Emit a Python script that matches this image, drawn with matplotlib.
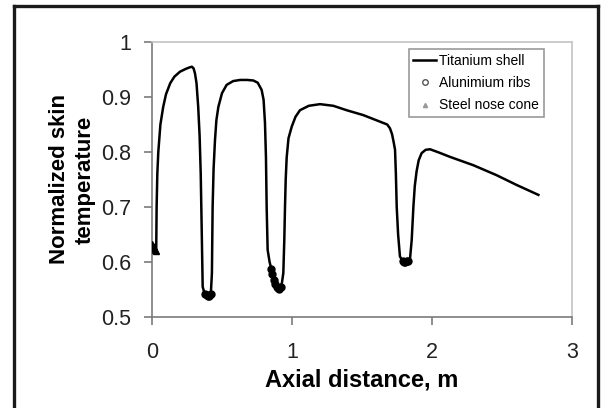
import matplotlib
matplotlib.use('Agg')
import matplotlib.pyplot as plt
from matplotlib.lines import Line2D

plt.rcParams['font.family'] = ['Liberation Sans', 'DejaVu Sans']

# Titanium shell skin temperature
shell_x = [0.0, 0.01, 0.02, 0.03, 0.033, 0.038, 0.045, 0.06, 0.08, 0.10, 0.13, 0.16, 0.2, 0.24,
           0.27, 0.285, 0.297, 0.307, 0.318, 0.33, 0.34, 0.348, 0.355, 0.362, 0.375, 0.39, 0.405,
           0.42, 0.428, 0.433, 0.44, 0.45, 0.46, 0.474, 0.50, 0.533, 0.58, 0.63, 0.68, 0.724,
           0.755, 0.783, 0.797, 0.807, 0.814, 0.819, 0.826, 0.84, 0.855, 0.875, 0.89, 0.905,
           0.914, 0.928, 0.938, 0.945, 0.95, 0.955, 0.962, 0.975, 0.998, 1.025, 1.057, 1.12,
           1.2, 1.295, 1.39, 1.51, 1.63, 1.68, 1.70, 1.715, 1.726, 1.736, 1.742, 1.748, 1.758,
           1.771, 1.79, 1.807, 1.825, 1.843, 1.855, 1.867, 1.877, 1.89, 1.905, 1.926, 1.955,
           1.986, 2.05, 2.13, 2.295, 2.46, 2.605, 2.76]
shell_y = [0.630, 0.628, 0.622, 0.619, 0.700, 0.760, 0.800, 0.850, 0.882, 0.905, 0.925, 0.937,
           0.946, 0.951, 0.954, 0.955, 0.952, 0.943, 0.925, 0.882, 0.830, 0.761, 0.660, 0.555,
           0.543, 0.540, 0.539, 0.541, 0.580, 0.700, 0.770, 0.822, 0.858, 0.882, 0.907, 0.922,
           0.929, 0.931, 0.931, 0.930, 0.926, 0.913, 0.895, 0.853, 0.790, 0.700, 0.622, 0.600,
           0.585, 0.565, 0.555, 0.551, 0.552, 0.562, 0.580, 0.640, 0.700, 0.750, 0.790, 0.825,
           0.846, 0.864, 0.876, 0.884, 0.887, 0.884, 0.876, 0.867, 0.855, 0.850, 0.843, 0.832,
           0.818, 0.804, 0.760, 0.700, 0.650, 0.610, 0.602, 0.600, 0.601, 0.606, 0.640, 0.700,
           0.738, 0.765, 0.785, 0.798, 0.804, 0.805, 0.799, 0.791, 0.776, 0.758, 0.740, 0.722]

# aluminium ribs (clusters at the troughs)
ribs_x = [0.38, 0.39, 0.40, 0.41, 0.42, 0.85, 0.86, 0.87, 0.88, 0.89, 0.90, 0.91, 0.92,
          1.79, 1.80, 1.81, 1.82, 1.83]
ribs_y = [0.542, 0.540, 0.539, 0.539, 0.541, 0.588, 0.578, 0.568, 0.560, 0.555, 0.552, 0.551, 0.554,
          0.602, 0.600, 0.600, 0.601, 0.602]

# steel nose cone
nose_x = [0.0, 0.005, 0.01, 0.015, 0.02, 0.025]
nose_y = [0.632, 0.630, 0.628, 0.625, 0.622, 0.620]

fig = plt.figure(figsize=(6.01, 4.08), dpi=100)
ax = fig.add_axes([152/601, 1-317/408, 420/601, 275/408])

ax.plot(shell_x, shell_y, color='k', lw=1.8, zorder=3)
ax.plot(ribs_x, ribs_y, 'o', mfc='k', mec='k', ms=5, zorder=4)
ax.plot(nose_x, nose_y, '^', mfc='k', mec='k', ms=5, zorder=4)

ax.set_xlim(0, 3)
ax.set_ylim(0.5, 1.0)
ax.set_xticks([0, 1, 2, 3])
ax.set_yticks([0.5, 0.6, 0.7, 0.8, 0.9, 1.0])
ax.set_yticklabels(['0.5', '0.6', '0.7', '0.8', '0.9', '1'])

for s in ['top', 'right']:
    ax.spines[s].set_color('#c4c4c4')
    ax.spines[s].set_linewidth(1.2)
for s in ['left', 'bottom']:
    ax.spines[s].set_color('#7a7a7a')
    ax.spines[s].set_linewidth(1.2)

ax.tick_params(axis='both', colors='#7a7a7a', length=6, width=1.2, labelsize=15.5, labelcolor='#222222')
ax.tick_params(axis='y', pad=9)
ax.tick_params(axis='x', pad=12)

ax.set_xlabel('Axial distance, m', fontsize=17, fontweight='bold', labelpad=4)
ax.set_ylabel('Normalized skin\ntemperature', fontsize=16, fontweight='bold', labelpad=4,
              linespacing=1.3)

handles = [Line2D([0], [0], color='k', lw=1.8),
           Line2D([0], [0], ls='none', marker='o', mfc='white', mec='#555555', ms=4),
           Line2D([0], [0], ls='none', marker='^', mfc='#999999', mec='#999999', ms=3)]
leg = ax.legend(handles, ['Titanium shell', 'Alunimium ribs', 'Steel nose cone'],
                loc='upper right', bbox_to_anchor=(0.933, 0.975), fontsize=10, fancybox=False,
                handlelength=1.6, handletextpad=0.25, borderpad=0.35, labelspacing=0.6,
                borderaxespad=0)
leg.get_frame().set_edgecolor('#808080')
leg.get_frame().set_linewidth(1.2)

# outer frame (open at the bottom)
fig.add_artist(Line2D([14/601, 14/601], [0, 1-6/408], color='#1a1a1a', lw=2.4))
fig.add_artist(Line2D([14/601, 598/601], [1-6/408, 1-6/408], color='#1a1a1a', lw=2.4))
fig.add_artist(Line2D([598/601, 598/601], [0, 1-6/408], color='#1a1a1a', lw=2.4))

fig.savefig('out.png', dpi=100)
